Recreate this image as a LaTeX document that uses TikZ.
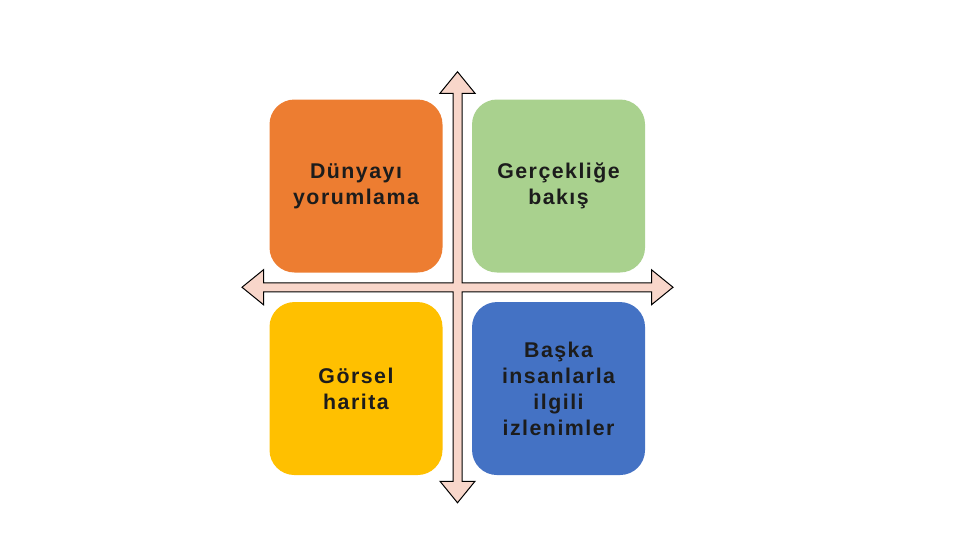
\documentclass[tikz,border=0pt]{standalone}
\usepackage{fontspec}
\setmainfont{Liberation Sans}
\newfontfamily\kutufont[LetterSpace=7]{Liberation Sans}
\usetikzlibrary{positioning}
\definecolor{kutuTuruncu}{HTML}{ED7D31}
\definecolor{kutuYesil}{HTML}{A9D18E}
\definecolor{kutuSari}{HTML}{FFC000}
\definecolor{kutuMavi}{HTML}{4472C4}
\definecolor{okDolgu}{RGB}{248,214,202}
\definecolor{yazi}{HTML}{1C1C1C}
\tikzset{
	kutu/.style={
		rectangle,
		rounded corners=18.75pt,
		align=center,
		minimum width=129.75pt,
		minimum height=129.75pt,
		inner sep=0pt,
		text width=120pt,
		text=yazi,
		font=\kutufont\bfseries\fontsize{16}{19.5}\selectfont
	},
	okkenar/.style={draw=black, line width=0.75pt, fill=okDolgu, line join=miter}
}

\begin{document}
\begin{tikzpicture}[x=0.75pt, y=-0.75pt, node distance=21.75pt]
	\useasboundingbox (0,0) rectangle (960,540);

	% cross arrow
	\coordinate (merkez) at (457.5,287.25);
	\draw[okkenar, shift={(merkez)}]
		(0,-215.5) -- (17.5,-194) -- (4.5,-194) -- (4.5,-4.5) --
		(194,-4.5) -- (194,-17.5) -- (215.5,0) -- (194,17.5) -- (194,4.5) -- (4.5,4.5) --
		(4.5,194) -- (17.5,194) -- (0,215.5) -- (-17.5,194) -- (-4.5,194) -- (-4.5,4.5) --
		(-194,4.5) -- (-194,17.5) -- (-215.5,0) -- (-194,-17.5) -- (-194,-4.5) -- (-4.5,-4.5) --
		(-4.5,-194) -- (-17.5,-194) -- cycle;

	% boxes
	\node[kutu, fill=kutuTuruncu] (dunya) at (356,186) {Dünyayı\\yorumlama};
	\node[kutu, fill=kutuYesil, right=of dunya] (gercek) {Gerçekliğe\\bakış};
	\node[kutu, fill=kutuSari, below=of dunya] (gorsel) {Görsel\\harita};
	\node[kutu, fill=kutuMavi, below=of gercek] (baska) {Başka\\insanlarla\\ilgili\\izlenimler};
\end{tikzpicture}
\end{document}
